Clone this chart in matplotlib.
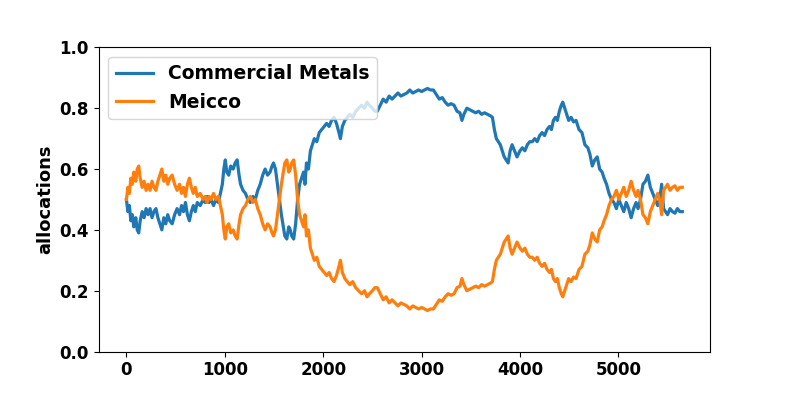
import matplotlib.pyplot as plt
import numpy as np

# allocation per step
steps = [0, 15, 30, 45, 60, 75, 95, 110, 125, 140, 160, 180, 200, 220, 240, 260, 280, 300, 320, 340,
         360, 380, 400, 420, 440, 465, 490, 515, 540, 560, 580, 600, 620, 640, 660, 680, 700, 720, 750, 780,
         800, 820, 840, 860, 885, 910, 935, 955, 975, 990, 1005, 1020, 1040, 1060, 1085, 1105, 1125, 1145, 1160, 1185,
         1210, 1235, 1260, 1285, 1310, 1335, 1360, 1385, 1410, 1435, 1460, 1480, 1495, 1515, 1535, 1555, 1575, 1595, 1610, 1630,
         1650, 1665, 1680, 1700, 1720, 1740, 1760, 1780, 1800, 1815, 1830, 1850, 1870, 1890, 1910, 1935, 1960, 1985, 2010, 2035,
         2060, 2085, 2110, 2135, 2160, 2175, 2195, 2220, 2245, 2270, 2300, 2330, 2360, 2390, 2420, 2445, 2470, 2500, 2525, 2550,
         2580, 2610, 2640, 2670, 2700, 2730, 2760, 2790, 2820, 2850, 2880, 2910, 2940, 2970, 3000, 3030, 3060, 3090, 3120, 3150,
         3180, 3210, 3240, 3270, 3300, 3330, 3360, 3390, 3410, 3430, 3460, 3490, 3520, 3550, 3580, 3610, 3640, 3670, 3700, 3720,
         3740, 3760, 3780, 3800, 3820, 3840, 3860, 3880, 3900, 3920, 3945, 3970, 4000, 4025, 4050, 4075, 4100, 4125, 4150, 4175,
         4200, 4225, 4250, 4275, 4300, 4320, 4340, 4360, 4380, 4400, 4420, 4435, 4455, 4475, 4495, 4520, 4545, 4570, 4600, 4630,
         4660, 4690, 4710, 4735, 4760, 4785, 4810, 4835, 4855, 4880, 4905, 4930, 4955, 4980, 5005, 5030, 5055, 5080, 5105, 5130,
         5155, 5180, 5200, 5225, 5250, 5275, 5300, 5325, 5350, 5375, 5400, 5420, 5440, 5460, 5480, 5500, 5525, 5550, 5575, 5600,
         5625, 5650]

commercial_metals = [0.50, 0.46, 0.48, 0.43, 0.45, 0.41, 0.44, 0.40, 0.39, 0.43, 0.46, 0.44, 0.47, 0.45, 0.47, 0.44, 0.46, 0.47, 0.44, 0.42,
                     0.40, 0.44, 0.42, 0.45, 0.43, 0.42, 0.45, 0.47, 0.45, 0.48, 0.46, 0.49, 0.45, 0.43, 0.46, 0.48, 0.46, 0.49, 0.48, 0.50,
                     0.49, 0.51, 0.49, 0.50, 0.48, 0.50, 0.49, 0.52, 0.55, 0.60, 0.63, 0.59, 0.58, 0.61, 0.60, 0.62, 0.63, 0.58, 0.55, 0.53,
                     0.52, 0.50, 0.49, 0.51, 0.50, 0.53, 0.55, 0.58, 0.60, 0.58, 0.59, 0.61, 0.62, 0.60, 0.55, 0.50, 0.45, 0.41, 0.38, 0.37,
                     0.41, 0.40, 0.38, 0.37, 0.42, 0.50, 0.55, 0.57, 0.59, 0.55, 0.62, 0.60, 0.66, 0.68, 0.70, 0.69, 0.72, 0.73, 0.74, 0.75,
                     0.74, 0.76, 0.77, 0.75, 0.72, 0.70, 0.74, 0.76, 0.77, 0.78, 0.77, 0.79, 0.80, 0.81, 0.80, 0.82, 0.81, 0.80, 0.79, 0.79,
                     0.81, 0.83, 0.82, 0.84, 0.83, 0.84, 0.85, 0.84, 0.845, 0.85, 0.86, 0.85, 0.855, 0.86, 0.855, 0.86, 0.865, 0.86, 0.86, 0.845,
                     0.83, 0.835, 0.82, 0.81, 0.815, 0.81, 0.79, 0.785, 0.76, 0.78, 0.80, 0.795, 0.79, 0.785, 0.79, 0.78, 0.785, 0.78, 0.775, 0.77,
                     0.73, 0.70, 0.69, 0.68, 0.66, 0.64, 0.63, 0.62, 0.66, 0.68, 0.66, 0.64, 0.66, 0.67, 0.66, 0.68, 0.69, 0.69, 0.70, 0.69,
                     0.71, 0.72, 0.71, 0.73, 0.74, 0.73, 0.76, 0.77, 0.76, 0.79, 0.81, 0.82, 0.80, 0.78, 0.76, 0.77, 0.755, 0.76, 0.73, 0.72,
                     0.68, 0.67, 0.65, 0.61, 0.63, 0.64, 0.60, 0.59, 0.57, 0.55, 0.52, 0.50, 0.49, 0.47, 0.50, 0.48, 0.46, 0.49, 0.47, 0.44,
                     0.47, 0.49, 0.47, 0.50, 0.55, 0.56, 0.58, 0.54, 0.52, 0.50, 0.48, 0.50, 0.55, 0.47, 0.46, 0.45, 0.47, 0.46, 0.455, 0.47,
                     0.46, 0.46]

meicco = [0.50, 0.54, 0.52, 0.57, 0.55, 0.59, 0.56, 0.60, 0.61, 0.57, 0.54, 0.56, 0.53, 0.55, 0.53, 0.56, 0.54, 0.53, 0.56, 0.58,
          0.60, 0.56, 0.58, 0.55, 0.57, 0.58, 0.55, 0.53, 0.55, 0.52, 0.54, 0.51, 0.55, 0.57, 0.54, 0.52, 0.54, 0.51, 0.52, 0.50,
          0.51, 0.49, 0.51, 0.50, 0.52, 0.50, 0.51, 0.48, 0.45, 0.40, 0.37, 0.41, 0.42, 0.39, 0.40, 0.38, 0.37, 0.42, 0.45, 0.47,
          0.48, 0.50, 0.51, 0.49, 0.50, 0.47, 0.45, 0.42, 0.40, 0.42, 0.41, 0.39, 0.38, 0.40, 0.45, 0.50, 0.55, 0.59, 0.62, 0.63,
          0.59, 0.60, 0.62, 0.63, 0.58, 0.50, 0.45, 0.43, 0.41, 0.45, 0.38, 0.40, 0.34, 0.32, 0.30, 0.31, 0.28, 0.27, 0.26, 0.25,
          0.26, 0.24, 0.23, 0.25, 0.28, 0.30, 0.26, 0.24, 0.23, 0.22, 0.23, 0.21, 0.20, 0.19, 0.20, 0.18, 0.19, 0.20, 0.21, 0.21,
          0.19, 0.17, 0.18, 0.16, 0.17, 0.16, 0.15, 0.16, 0.155, 0.15, 0.14, 0.15, 0.145, 0.14, 0.145, 0.14, 0.135, 0.14, 0.14, 0.155,
          0.17, 0.165, 0.18, 0.19, 0.185, 0.19, 0.21, 0.215, 0.24, 0.22, 0.20, 0.205, 0.21, 0.215, 0.21, 0.22, 0.215, 0.22, 0.225, 0.23,
          0.27, 0.30, 0.31, 0.32, 0.34, 0.36, 0.37, 0.38, 0.34, 0.32, 0.34, 0.36, 0.34, 0.33, 0.34, 0.32, 0.31, 0.31, 0.30, 0.31,
          0.29, 0.28, 0.29, 0.27, 0.26, 0.27, 0.24, 0.23, 0.24, 0.21, 0.19, 0.18, 0.20, 0.22, 0.24, 0.23, 0.245, 0.24, 0.27, 0.28,
          0.32, 0.33, 0.35, 0.39, 0.37, 0.36, 0.40, 0.41, 0.43, 0.45, 0.48, 0.50, 0.51, 0.53, 0.50, 0.52, 0.54, 0.51, 0.53, 0.56,
          0.53, 0.51, 0.53, 0.50, 0.45, 0.44, 0.42, 0.46, 0.48, 0.50, 0.52, 0.50, 0.45, 0.53, 0.54, 0.55, 0.53, 0.54, 0.545, 0.53,
          0.54, 0.54]

plt.rcParams['font.weight'] = 'bold'
plt.rcParams['axes.labelweight'] = 'bold'

fig, ax = plt.subplots(figsize=(7.89, 3.95), dpi=100)
ax.plot(steps, commercial_metals, label='Commercial Metals', linewidth=2.3)
ax.plot(steps, meicco, label='Meicco', linewidth=2.3)

ax.set_ylim(0.0, 1.0)
ax.set_ylabel('allocations', fontsize=13)
ax.tick_params(axis='both', labelsize=12)
ax.legend(loc='upper left', fontsize=13.5)

plt.savefig('out.png', dpi=100)
